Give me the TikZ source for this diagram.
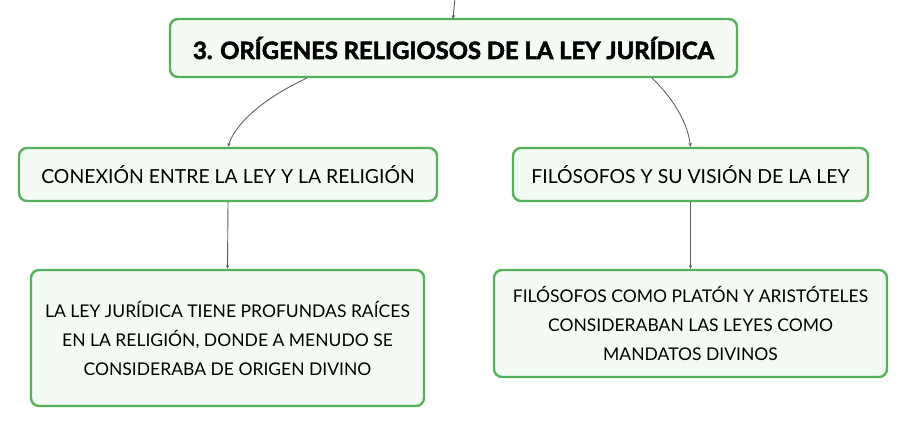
\documentclass[tikz,border=0pt]{standalone}
\usepackage{fontspec}
\setmainfont{Lato}
\newfontfamily\titlefont{Lato}[BoldFeatures={FakeBold=2.4}]
\usetikzlibrary{arrows.meta}
\definecolor{boxborder}{RGB}{86,178,90}
\definecolor{boxfill}{RGB}{244,250,244}
\definecolor{linkgray}{RGB}{95,95,95}
\tikzset{
  box/.style={draw=boxborder, fill=boxfill, line width=2.4pt, rounded corners=8pt, inner sep=0pt, align=center},
  link/.style={draw=linkgray, line width=0.9pt, -{Stealth[length=4pt,width=3.5pt]}}
}
\begin{document}
\begin{tikzpicture}[x=1pt,y=-1pt]
\useasboundingbox (0,0) rectangle (908,426);
\node[box, minimum width=567pt, minimum height=58pt, font=\titlefont\bfseries\fontsize{23.8}{27}\selectfont] (title) at (453.5,48) {3. ORÍGENES RELIGIOSOS DE LA LEY JURÍDICA};
\node[box, minimum width=418pt, minimum height=53pt, font=\fontsize{19.4}{22}\selectfont] (conex) at (228,174.5) {CONEXIÓN ENTRE LA LEY Y LA RELIGIÓN};
\node[box, minimum width=355pt, minimum height=53pt, font=\fontsize{19.4}{22}\selectfont] (filo) at (690.5,174.5) {FILÓSOFOS Y SU VISIÓN DE LA LEY};
\node[box, minimum width=393pt, minimum height=136pt, font=\fontsize{17.5}{29}\selectfont] (raices) at (227.5,338) {LA LEY JURÍDICA TIENE PROFUNDAS RAÍCES\\EN LA RELIGIÓN, DONDE A MENUDO SE\\CONSIDERABA DE ORIGEN DIVINO};
\node[box, minimum width=393pt, minimum height=107pt, font=\fontsize{17.5}{29}\selectfont] (platon) at (690.5,323.5) {FILÓSOFOS COMO PLATÓN Y ARISTÓTELES\\CONSIDERABAN LAS LEYES COMO\\MANDATOS DIVINOS};
\coordinate (top) at (455,-2);
\coordinate (tin) at (453,19);
\draw[link] (top) -- (tin);
\draw[link] (307,78) .. controls (260,100) and (235,125) .. (conex.north);
\draw[link] (652,78) .. controls (675,100) and (688,125) .. (filo.north);
\draw[link] (conex.south) -- (raices.north);
\draw[link] (filo.south) -- (platon.north);
\end{tikzpicture}
\end{document}
